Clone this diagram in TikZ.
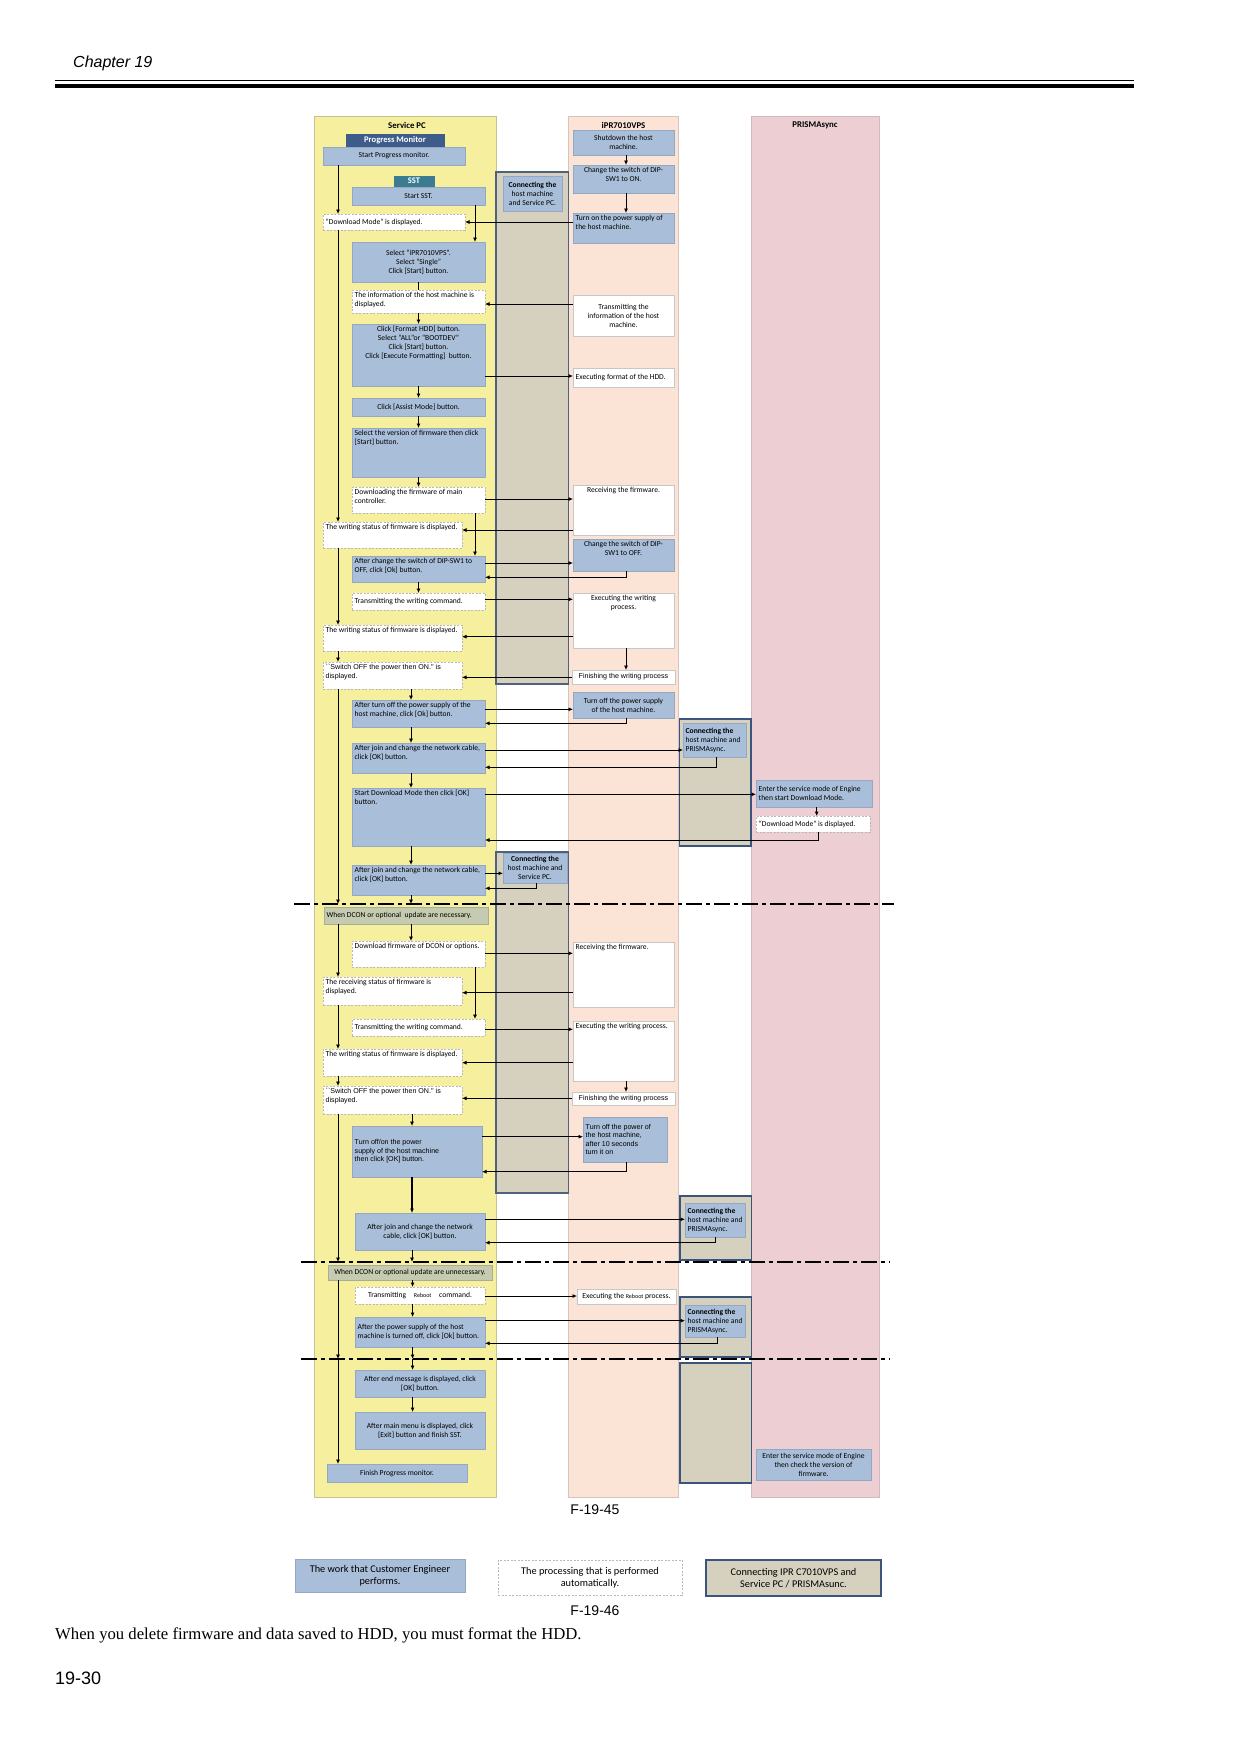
\documentclass[tikz,border=0pt]{standalone}
\usepackage{fontspec}
\setmainfont{Carlito}
\newfontfamily\arialf{Liberation Sans}
\newfontfamily\tnrf{Liberation Serif}
\usetikzlibrary{arrows.meta}
\definecolor{lyellow}{RGB}{246,239,158}
\definecolor{lpeach}{RGB}{251,227,214}
\definecolor{lpink}{RGB}{236,206,211}
\definecolor{bandgray}{RGB}{214,209,191}
\definecolor{bandblue}{RGB}{58,84,124}
\definecolor{cebl}{RGB}{169,190,216}
\definecolor{ceedge}{RGB}{148,168,196}
\definecolor{pmblue}{RGB}{62,92,138}
\definecolor{sstteal}{RGB}{60,124,145}
\definecolor{dashgray}{RGB}{185,185,185}
\definecolor{condgreen}{RGB}{197,203,176}
\newcommand\bxfont{\fontsize{7.6}{9}\selectfont}
\newcommand\arialtxt{\arialf\fontsize{7.1}{8.6}\selectfont}
\newcommand\bx[9]{%
  \pgfmathsetmacro\bxw{#5-#3}%
  \pgfmathsetmacro\bxh{#6-#4}%
  \pgfmathsetmacro\bxcx{(#3+#5)/2}%
  \pgfmathsetmacro\bxcy{(#4+#6)/2}%
  \node[#2, minimum width=\bxw pt, minimum height=\bxh pt] (#1) at (\bxcx,\bxcy) {};%
  \node[txt, anchor=#7, #8] (#1t) at (#1.#7) {#9};%
}
\tikzset{
  bxbase/.style={rectangle, inner sep=0pt, outer sep=0pt},
  ce/.style={bxbase, fill=cebl, draw=ceedge, line width=0.5pt},
  autobox/.style={bxbase, fill=white, draw=dashgray, dash pattern=on 2pt off 1.5pt, line width=0.6pt},
  wb/.style={bxbase, fill=white, draw=dashgray!80, line width=0.5pt},
  pmb/.style={bxbase, fill=pmblue, draw=pmblue},
  sstb/.style={bxbase, fill=sstteal, draw=sstteal},
  cond/.style={bxbase, fill=condgreen, draw=condgreen!85!black, line width=0.3pt},
  legbox/.style={bxbase, fill=bandgray, draw=bandblue, line width=2.2pt},
  txt/.style={inner xsep=2.5pt, inner ysep=2pt, font=\bxfont, text=black},
  tl/.style={align=left},
  tc/.style={align=center},
  tla/.style={align=left, font=\arialtxt},
  tca/.style={align=center, font=\arialtxt},
  tcl/.style={align=center, font=\fontsize{10.3}{11.8}\selectfont},
  twhite/.style={align=center, text=white, font=\bfseries\fontsize{8.6}{9}\selectfont},
  lanetitle/.style={font=\bfseries\fontsize{8.8}{10}\selectfont, inner sep=0pt},
  captxt/.style={font=\arialf\fontsize{14}{16}\selectfont, inner sep=0pt},
  arr/.style={-{Latex[length=4.5pt,width=4pt]}, line width=0.8pt},
  ln/.style={line width=0.8pt},
  dd/.style={line width=1.4pt, dash pattern=on 16pt off 4pt on 4pt off 4pt},
  gband/.style={fill=bandgray, draw=bandblue!70!gray, line width=1.2pt},
  pband/.style={fill=bandgray, draw=bandblue, line width=1.8pt},
}
\begin{document}
\begin{tikzpicture}[x=1pt,y=-1pt]
\useasboundingbox (0,0) rectangle (1240,1754);
\fill[white] (0,0) rectangle (1240,1754);
% header
\node[anchor=base west, font=\arialf\itshape\fontsize{16}{18}\selectfont, inner sep=0pt] (chap) at (73,67.7) {Chapter 19};
\coordinate (hl1a) at (55,80); \coordinate (hl1b) at (1134,80);
\coordinate (hl2a) at (55,86); \coordinate (hl2b) at (1134,86);
\draw[line width=1pt] (hl1a) -- (hl1b);
\draw[line width=3.5pt] (hl2a) -- (hl2b);
% lanes
\draw[fill=lyellow, draw=lyellow!60!gray, line width=0.6pt] (314.5,116) rectangle (496,1497);
\draw[fill=lpeach, draw=lpeach!70!gray, line width=0.6pt] (568.5,116) rectangle (678.5,1497);
\draw[fill=lpink, draw=lpink!75!gray, line width=0.6pt] (751,116) rectangle (879,1497);
\node[lanetitle] (tsp) at (407,125) {Service PC};
\node[lanetitle] (tipr) at (623.5,125) {iPR7010VPS};
\node[lanetitle] (tpr) at (815,125) {PRISMAsync};
% connection bands
\draw[gband] (496,172) rectangle (568.5,684);
\draw[gband] (496,852) rectangle (568.5,1193);
\draw[pband] (679.5,719) rectangle (751,846);
\draw[pband] (680,1196) rectangle (751.5,1260);
\draw[pband] (680,1297) rectangle (751.5,1357);
\draw[pband] (680,1363) rectangle (751.5,1483);
\bx{gc1}{ce}{503}{176}{562}{211}{center}{tc}{\textbf{Connecting the}\\host machine\\and Service PC.}
\bx{gc2}{ce}{503}{853}{567}{883}{center}{tc}{\textbf{Connecting the}\\host machine and\\Service PC.}
\bx{c1}{ce}{683}{723}{746}{757}{west}{tl}{\textbf{Connecting the}\\host machine and\\PRISMAsync.}
\bx{c2}{ce}{685}{1203}{745}{1237}{west}{tl}{\textbf{Connecting the}\\host machine and\\PRISMAsync.}
\bx{c3}{ce}{685}{1305}{745}{1337}{west}{tl}{\textbf{Connecting the}\\host machine and\\PRISMAsync.}
% Service PC lane
\bx{pm}{pmb}{346}{134}{444}{146}{center}{twhite}{Progress Monitor}
\bx{spm}{ce}{323}{147}{465}{165}{center}{tc}{Start Progress monitor.}
\bx{sst}{sstb}{394}{176}{434}{186}{center}{twhite}{SST}
\bx{ssst}{ce}{352}{187}{485}{205}{center}{tc}{Start SST.}
\bx{dlm}{autobox}{323}{214}{465}{230}{west}{tl}{``Download Mode'' is displayed.}
\bx{sel}{ce}{352}{242}{485}{282}{center}{tc}{Select ``iPR7010VPS''.\\Select ``Single''\\Click [Start] button.}
\bx{info}{autobox}{352}{290}{485}{313}{north west}{tl}{The information of the host machine is\\displayed.}
\bx{fmt}{ce}{352}{324}{485}{386}{north}{tc}{Click [Format HDD] button.\\Select ``ALL''or ``BOOTDEV''\\Click [Start] button.\\Click [Execute Formatting]\ \ button.}
\bx{assist}{ce}{352}{398}{485}{416}{center}{tc}{Click [Assist Mode] button.}
\bx{ver}{ce}{352}{428}{485}{477}{north west}{tl}{Select the version of firmware then click\\{}[Start] button.}
\bx{dlfw}{autobox}{352}{487}{485}{513}{north west}{tl}{Downloading the firmware of main\\controller.}
\bx{ws1}{autobox}{323}{522}{462}{548}{north west}{tl}{The writing status of firmware is displayed.}
\bx{dipoff}{ce}{352}{556}{485}{582}{north west}{tl}{After change the switch of DIP-SW1 to\\OFF, click [Ok] button.}
\bx{twc1}{autobox}{352}{593}{485}{610}{west}{tl}{Transmitting the writing command.}
\bx{ws2}{autobox}{323}{625}{462}{651}{north west}{tl}{The writing status of firmware is displayed.}
\bx{sw1}{autobox}{323}{662}{462}{689}{north west}{tla}{``Switch OFF the power then ON.'' is\\displayed.}
\bx{ato}{ce}{352}{700}{485}{727}{north west}{tl}{After turn off the power supply of the\\host machine, click [Ok] button.}
\bx{aj1}{ce}{352}{743}{485}{773}{north west}{tl}{After join and change the network cable,\\click [OK] button.}
\bx{sdm}{ce}{352}{788}{485}{846}{north west}{tl}{Start Download Mode then click [OK]\\button.}
\bx{aj2}{ce}{352}{865}{485}{895}{north west}{tl}{After join and change the network cable,\\click [OK] button.}
\bx{nec}{cond}{324}{907}{488}{924}{west}{tl}{When DCON or optional\ \ update are necessary.}
\bx{dld}{autobox}{352}{941}{485}{967}{north west}{tl}{Download firmware of DCON or options.}
\bx{rs}{autobox}{323}{977}{462}{1005}{north west}{tl}{The receiving status of firmware is\\displayed.}
\bx{twc2}{autobox}{352}{1019}{485}{1036}{west}{tl}{Transmitting the writing command.}
\bx{ws3}{autobox}{323}{1049}{462}{1076}{north west}{tl}{The writing status of firmware is displayed.}
\bx{sw2}{autobox}{323}{1086}{462}{1114}{north west}{tla}{``Switch OFF the power then ON.'' is\\displayed.}
\bx{toff}{ce}{352}{1126}{482}{1177}{west}{tla}{Turn off/on the power\\supply of the host machine\\then click [OK] button.}
\bx{aj3}{ce}{355}{1213}{485}{1250}{center}{tc}{After join and change the network\\cable, click [OK] button.}
\bx{unn}{cond}{328}{1265}{492}{1280}{center}{tc}{When DCON or optional update are unnecessary.}
\bx{treb}{autobox}{355}{1287}{485}{1304}{center}{tc}{Transmitting\quad{\fontsize{6}{7}\selectfont Reboot}\quad command.}
\bx{apo}{ce}{355}{1317}{485}{1347}{west}{tl}{After the power supply of the host\\machine is turned off, click [Ok] button.}
\bx{aem}{ce}{355}{1370}{485}{1397}{center}{tc}{After end message is displayed, click\\{}[OK] button.}
\bx{amm}{ce}{355}{1412}{485}{1449}{center}{tc}{After main menu is displayed, click\\{}[Exit] button and finish SST.}
\bx{fpm}{ce}{327}{1464}{467}{1482}{center}{tc}{Finish Progress monitor.}
% iPR lane
\bx{i1}{ce}{573}{130}{674}{155}{center}{tc}{Shutdown the host\\machine.}
\bx{i2}{ce}{573}{165}{674}{193}{north}{tc}{Change the switch of DIP-\\SW1 to ON.}
\bx{i3}{ce}{573}{213}{674}{243}{north west}{tl}{Turn on the power supply of\\the host machine.}
\bx{i4}{wb}{573}{295}{674}{336}{center}{tc}{Transmitting the\\information of the host\\machine.}
\bx{i5}{wb}{573}{368}{674}{387}{west}{tl}{Executing format of the HDD.}
\bx{i6}{wb}{573}{485}{674}{535}{north}{tc}{Receiving the firmware.}
\bx{i7}{ce}{573}{539}{674}{571}{north}{tc}{Change the switch of DIP-\\SW1 to OFF.}
\bx{i8}{wb}{573}{593}{674}{648}{north}{tc}{Executing the writing\\process.}
\bx{i9}{wb}{572}{670}{675}{684}{center}{tca}{Finishing the writing process}
\bx{i10}{ce}{573}{692}{674}{718}{center}{tc}{Turn off the power supply\\of the host machine.}
\bx{i11}{wb}{573}{942}{674}{1007}{north west}{tl}{Receiving the firmware.}
\bx{i12}{wb}{573}{1021}{674}{1081}{north west}{tl}{Executing the writing process.}
\bx{i13}{wb}{572}{1092}{675}{1105}{center}{tca}{Finishing the writing process}
\bx{i14}{ce}{583}{1117}{667}{1162}{west}{tla}{Turn off the power of\\the host machine,\\after 10 seconds\\turn it on}
\bx{i15}{wb}{577}{1289}{676}{1304}{center}{tc}{Executing the {\fontsize{6}{7}\selectfont Reboot} process.}
% PRISMAsync lane
\bx{p1}{ce}{756}{780}{872}{807}{west}{tl}{Enter the service mode of Engine\\then start Download Mode.}
\bx{p2}{autobox}{756}{816}{870}{832}{west}{tl}{``Download Mode'' is displayed.}
\bx{p3}{ce}{756}{1449}{871}{1480}{center}{tc}{Enter the service mode of Engine\\then check the version of\\firmware.}
% dash-dot separators
\coordinate (d1a) at (294,904); \coordinate (d1b) at (894,904);
\coordinate (d2a) at (301,1262); \coordinate (d2b) at (890,1262);
\coordinate (d3a) at (301,1359); \coordinate (d3b) at (890,1359);
\draw[dd] (d1a) -- (d1b);
\draw[dd] (d2a) -- (d2b);
\draw[dd] (d3a) -- (d3b);
% progress monitor chain
\draw[arr] (spm.south -| 338,0) -- (dlm.north -| 338,0);
\draw[arr] (dlm.south -| 338,0) -- (ws1.north -| 338,0);
\draw[arr] (ws1.south -| 338,0) -- (ws2.north -| 338,0);
\draw[arr] (ws2.south -| 338,0) -- (sw1.north -| 338,0);
\draw[arr] (sw1.south -| 338,0) -- (d1a -| 338,0);
\draw[arr] (nec.south -| 338,0) -- (rs.north -| 338,0);
\draw[arr] (rs.south -| 338,0) -- (ws3.north -| 338,0);
\draw[arr] (ws3.south -| 338,0) -- (sw2.north -| 338,0);
\draw[arr] (sw2.south -| 338,0) -- (d2a -| 338,0);
\draw[arr] (unn.south -| 338,0) -- (d3a -| 338,0);
\draw[arr] (d3a -| 338,0) -- (fpm.north -| 338,0);
% SST chain
\draw[arr] (ssst.south -| 475,0) -- (sel.north -| 475,0);
\draw[arr] (dlfw.south -| 475,0) -- (dipoff.north -| 475,0);
\draw[arr] (dld.south -| 475,0) -- (twc2.north -| 475,0);
% main chain
\draw[ln] (sel.south) -- (info.north);
\draw[arr] (info.south) -- (fmt.north);
\draw[arr] (fmt.south) -- (assist.north);
\draw[arr] (assist.south) -- (ver.north);
\draw[arr] (ver.south) -- (dlfw.north);
\draw[arr] (dipoff.south) -- (twc1.north);
\draw[arr] (sw1.south -| 411,0) -- (ato.north -| 411,0);
\draw[arr] (ato.south -| 411,0) -- (aj1.north -| 411,0);
\draw[arr] (aj1.south -| 411,0) -- (sdm.north -| 411,0);
\draw[arr] (sdm.south -| 411,0) -- (aj2.north -| 411,0);
\draw[arr] (aj2.south -| 411,0) -- (d1a -| 411,0);
\draw[arr] (nec.south -| 411,0) -- (dld.north -| 411,0);
\draw[arr] (sw2.south -| 412,0) -- (toff.north -| 412,0);
\draw[arr, line width=1.2pt] (toff.south -| 412,0) -- (aj3.north -| 412,0);
\draw[arr] (aj3.south -| 412,0) -- (d2a -| 412,0);
\draw[arr] (unn.south -| 412.6,0) -- (treb.north -| 412.6,0);
\draw[arr] (treb.south -| 412.6,0) -- (apo.north -| 412.6,0);
\draw[arr] (apo.south -| 412.6,0) -- (d3a -| 412.6,0);
\draw[arr] (d3a -| 412.6,0) -- (aem.north -| 412.6,0);
\draw[arr] (aem.south -| 412.6,0) -- (amm.north -| 412.6,0);
% iPR / PRISMAsync vertical
\draw[arr] (i1.south -| 626,0) -- (i2.north -| 626,0);
\draw[arr] (i2.south -| 626,0) -- (i3.north -| 626,0);
\draw[arr] (i8.south -| 626,0) -- (i9.north -| 626,0);
\draw[arr] (i12.south -| 626,0) -- (i13.north -| 626,0);
\draw[arr] (p1.south -| 816.7,0) -- (p2.north -| 816.7,0);
% horizontal messages
\draw[arr] (i3.west |- dlm.east) -- (dlm.east);
\draw[arr] (i4.west |- 0,304) -- (info.east |- 0,304);
\draw[arr] (fmt.east |- 0,376) -- (i5.west |- 0,376);
\draw[arr] (dlfw.east |- 0,499) -- (i6.west |- 0,499);
\draw[arr] (i6.west |- 0,530) -- (ws1.east |- 0,530);
\draw[arr] (dipoff.east |- 0,563) -- (i7.west |- 0,563);
\draw[arr] (i7.south -| 626.7,0) |- (dipoff.east |- 0,577.3);
\draw[arr] (twc1.east |- 0,599.3) -- (i8.west |- 0,599.3);
\draw[arr] (i8.west |- 0,636.7) -- (ws2.east |- 0,636.7);
\draw[arr, line width=1.1pt] (i9.west |- 0,677.3) -- (sw1.east |- 0,677.3);
\draw[arr] (ato.east |- 0,709.3) -- (i10.west |- 0,709.3);
\draw[arr] (i10.south -| 626.7,0) |- (ato.east |- 0,723.3);
\draw[arr] (aj1.east |- 0,750) -- (c1.west |- 0,750);
\draw[arr] (c1.south -| 716.7,0) |- (aj1.east |- 0,767.3);
\draw[arr] (sdm.east |- 0,794.3) -- (p1.west |- 0,794.3);
\draw[arr] (p2.south -| 818.5,0) |- (sdm.east |- 0,840);
\draw[arr] (aj2.east |- 0,873.3) -- (gc2.west |- 0,873.3);
\draw[arr] (gc2.south -| 536.4,0) |- (aj2.east |- 0,888.3);
\draw[arr] (dld.east |- 0,953.3) -- (i11.west |- 0,953.3);
\draw[arr, line width=1.3pt] (i11.west |- 0,992.7) -- (rs.east |- 0,992.7);
\draw[arr] (twc2.east |- 0,1029.3) -- (i12.west |- 0,1029.3);
\draw[arr, line width=1.1pt] (i12.west |- 0,1062.7) -- (ws3.east |- 0,1062.7);
\draw[arr, line width=1.1pt] (i13.west |- 0,1098.3) -- (sw2.east |- 0,1098.3);
\draw[arr] (toff.east |- 0,1136.7) -- (i14.west |- 0,1136.7);
\draw[arr] (i14.south -| 626.4,0) |- (toff.east |- 0,1171.7);
\draw[arr] (aj3.east |- 0,1219.3) -- (c2.west |- 0,1219.3);
\draw[arr] (c2.south -| 715.3,0) |- (aj3.east |- 0,1242.7);
\draw[arr] (treb.east |- 0,1296) -- (i15.west |- 0,1296);
\draw[arr] (apo.east |- 0,1320.7) -- (c3.west |- 0,1320.7);
\draw[arr] (c3.south -| 717,0) |- (apo.east |- 0,1343.3);
% captions and legend
\node[captxt] (f45) at (595,1510) {F-19-45};
\bx{lg1}{ce}{295}{1559}{465}{1592}{center}{tcl}{The work that Customer Engineer\\performs.}
\bx{lg2}{autobox}{498}{1560}{682}{1595}{center}{tcl}{The processing that is performed\\automatically.}
\bx{lg3}{legbox}{706}{1560}{881}{1596}{center}{tcl}{Connecting IPR C7010VPS and\\Service PC / PRISMAsunc.}
\node[captxt] (f46) at (595,1611) {F-19-46};
\node[anchor=base west, inner sep=0pt, font=\tnrf\fontsize{16.7}{18}\selectfont] (note) at (55,1639) {When you delete firmware and data saved to HDD, you must format the HDD.};
\node[anchor=base west, inner sep=0pt, font=\arialf\fontsize{18}{20}\selectfont] (pgno) at (55,1684) {19-30};
\end{tikzpicture}
\end{document}
